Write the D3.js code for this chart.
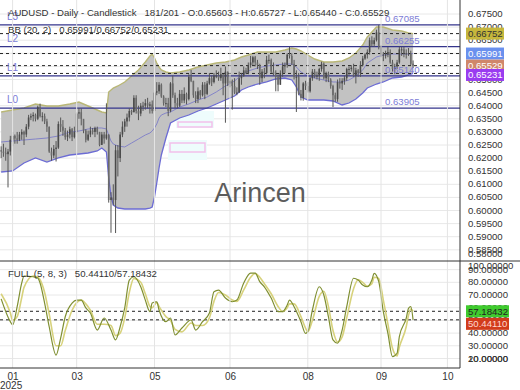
<!DOCTYPE html>
<html>
<head>
<meta charset="utf-8">
<script src="https://cdn.jsdelivr.net/npm/d3@7"></script>
<style>
  body { margin: 0; background: #fff; }
  svg { display: block; font-family: "Liberation Sans", Arial, sans-serif; }
</style>
</head>
<body>
<div id="chart"></div>
<script>
// ---- candles (bar index = position in array) ----
const opens = [
  0.6230,0.6225,0.6220,0.6215,0.6225,0.6270,0.6285,0.6275,0.6270,0.6290,
  0.6300,0.6290,0.6320,0.6355,0.6360,0.6365,0.6350,0.6395,0.6360,0.6360,
  0.6340,0.6320,0.6225,0.6210,0.6235,0.6240,0.6330,0.6320,0.6305,0.6280,
  0.6290,0.6310,0.6280,0.6300,0.6370,0.6375,0.6350,0.6305,0.6270,0.6290,
  0.6305,0.6300,0.6315,0.6300,0.6250,0.6290,0.6275,0.6290,0.6040,0.6050,
  0.6040,0.6230,0.6200,0.6290,0.6320,0.6340,0.6355,0.6380,0.6375,0.6430,
  0.6380,0.6370,0.6400,0.6400,0.6410,0.6400,0.6405,0.6380,0.6450,0.6455,
  0.6480,0.6435,0.6410,0.6410,0.6380,0.6485,0.6440,0.6410,0.6400,0.6445,
  0.6420,0.6445,0.6425,0.6510,0.6495,0.6440,0.6425,0.6455,0.6440,0.6480,
  0.6445,0.6485,0.6505,0.6490,0.6515,0.6515,0.6505,0.6520,0.6485,0.6530,
  0.6485,0.6495,0.6475,0.6450,0.6450,0.6505,0.6515,0.6535,0.6525,0.6555,
  0.6565,0.6585,0.6565,0.6555,0.6505,0.6530,0.6525,0.6575,0.6575,0.6530,
  0.6520,0.6510,0.6480,0.6525,0.6550,0.6555,0.6595,0.6590,0.6560,0.6510,
  0.6510,0.6445,0.6430,0.6485,0.6475,0.6455,0.6505,0.6530,0.6515,0.6515,
  0.6540,0.6560,0.6505,0.6525,0.6500,0.6475,0.6440,0.6425,0.6490,0.6485,
  0.6495,0.6505,0.6540,0.6540,0.6545,0.6515,0.6535,0.6525,0.6555,0.6580,
  0.6595,0.6605,0.6650,0.6635,0.6650,0.6680,0.6625,0.6595,0.6595,0.6595,
  0.6605,0.6565,0.6540,0.6550,0.6565,0.6615,0.6615,0.6600,0.6600,0.6600,
  0.65603
];
const highs = [
  0.6245,0.6255,0.6240,0.6235,0.6285,0.6300,0.6290,0.6300,0.6300,0.6310,
  0.6305,0.6330,0.6365,0.6370,0.6375,0.6370,0.6400,0.6408,0.6375,0.6370,
  0.6350,0.6320,0.6240,0.6250,0.6265,0.6340,0.6355,0.6345,0.6315,0.6305,
  0.6320,0.6315,0.6320,0.6375,0.6391,0.6390,0.6345,0.6310,0.6305,0.6320,
  0.6315,0.6320,0.6320,0.6300,0.6300,0.6300,0.6409,0.6290,0.6070,0.6100,
  0.6250,0.6250,0.6300,0.6340,0.6350,0.6370,0.6390,0.6385,0.6440,0.6440,
  0.6400,0.6410,0.6415,0.6425,0.6430,0.6415,0.6420,0.6460,0.6490,0.6490,
  0.6485,0.6440,0.6430,0.6430,0.6490,0.6515,0.6450,0.6430,0.6460,0.6460,
  0.6470,0.6450,0.6520,0.6537,0.6495,0.6455,0.6470,0.6460,0.6490,0.6490,
  0.6495,0.6525,0.6515,0.6525,0.6535,0.6530,0.6545,0.6520,0.6550,0.6530,
  0.6515,0.6500,0.6505,0.6470,0.6530,0.6525,0.6550,0.6545,0.6565,0.6590,
  0.6590,0.6590,0.6575,0.6560,0.6540,0.6545,0.6590,0.6595,0.6580,0.6565,
  0.6535,0.6520,0.6535,0.6565,0.6565,0.6600,0.6625,0.6600,0.6575,0.6535,
  0.6525,0.6460,0.6490,0.6495,0.6490,0.6510,0.6540,0.6540,0.6530,0.6545,
  0.6568,0.6565,0.6530,0.6530,0.6505,0.6480,0.6450,0.6500,0.6505,0.6505,
  0.6515,0.6545,0.6550,0.6555,0.6560,0.6545,0.6540,0.6570,0.6590,0.6600,
  0.6615,0.6660,0.6665,0.6660,0.6690,0.67085,0.6630,0.6605,0.6610,0.6625,
  0.6615,0.6575,0.6560,0.6575,0.6625,0.6625,0.6625,0.6615,0.6620,0.6610,
  0.65727
];
const lows = [
  0.6200,0.6205,0.6190,0.6088,0.6210,0.6245,0.6255,0.6255,0.6265,0.6270,
  0.6250,0.6280,0.6310,0.6345,0.6340,0.6340,0.6345,0.6355,0.6340,0.6330,
  0.6300,0.6220,0.6190,0.6200,0.6187,0.6235,0.6300,0.6285,0.6270,0.6265,
  0.6275,0.6265,0.6275,0.6295,0.6350,0.6325,0.6295,0.6260,0.6265,0.6280,
  0.6290,0.6280,0.6290,0.6245,0.6255,0.6255,0.6270,0.6030,0.5915,0.6020,
  0.5914,0.6130,0.6185,0.6280,0.6300,0.6320,0.6340,0.6365,0.6375,0.6370,
  0.6345,0.6360,0.6380,0.6385,0.6390,0.6370,0.6370,0.6375,0.6440,0.6445,
  0.6430,0.6400,0.6395,0.6360,0.6375,0.6430,0.6390,0.6390,0.6395,0.6410,
  0.6410,0.6405,0.6420,0.6490,0.6430,0.6410,0.6410,0.6425,0.6435,0.6425,
  0.6440,0.6480,0.6475,0.6485,0.6505,0.6495,0.6495,0.6440,0.6335,0.6475,
  0.6470,0.6385,0.6445,0.6440,0.6450,0.6480,0.6510,0.6520,0.6520,0.6545,
  0.6555,0.6550,0.6540,0.6480,0.6490,0.6505,0.6520,0.6560,0.6525,0.6515,
  0.6455,0.6455,0.6480,0.6510,0.6525,0.6545,0.6580,0.6555,0.6500,0.6376,
  0.6440,0.6420,0.6419,0.6460,0.6450,0.6450,0.6495,0.6505,0.6500,0.6495,
  0.6530,0.6500,0.6490,0.6490,0.6465,0.6395,0.6415,0.6415,0.6465,0.6460,
  0.6480,0.6495,0.6515,0.6530,0.6510,0.6485,0.6510,0.6510,0.6550,0.6575,
  0.6580,0.6595,0.6625,0.6625,0.6645,0.6615,0.6585,0.6570,0.6580,0.6585,
  0.6560,0.6530,0.6520,0.6540,0.6560,0.6590,0.6585,0.6580,0.6590,0.6555,
  0.65440
];
const closes = [
  0.6225,0.6220,0.6215,0.6225,0.6270,0.6285,0.6275,0.6270,0.6290,0.6300,
  0.6290,0.6320,0.6355,0.6360,0.6365,0.6350,0.6395,0.6360,0.6360,0.6340,
  0.6320,0.6225,0.6210,0.6235,0.6240,0.6330,0.6320,0.6305,0.6280,0.6290,
  0.6310,0.6280,0.6300,0.6370,0.6375,0.6350,0.6305,0.6270,0.6290,0.6305,
  0.6300,0.6315,0.6300,0.6250,0.6290,0.6275,0.6290,0.6040,0.6050,0.6040,
  0.6230,0.6200,0.6290,0.6320,0.6340,0.6355,0.6380,0.6375,0.6430,0.6380,
  0.6370,0.6400,0.6400,0.6410,0.6400,0.6405,0.6380,0.6450,0.6455,0.6480,
  0.6435,0.6410,0.6410,0.6380,0.6485,0.6440,0.6410,0.6400,0.6445,0.6420,
  0.6445,0.6425,0.6510,0.6495,0.6440,0.6425,0.6455,0.6440,0.6480,0.6445,
  0.6485,0.6505,0.6490,0.6515,0.6515,0.6505,0.6520,0.6485,0.6530,0.6485,
  0.6495,0.6475,0.6450,0.6450,0.6505,0.6515,0.6535,0.6525,0.6555,0.6565,
  0.6585,0.6565,0.6555,0.6505,0.6530,0.6525,0.6575,0.6575,0.6530,0.6520,
  0.6510,0.6480,0.6525,0.6550,0.6555,0.6595,0.6590,0.6560,0.6510,0.6510,
  0.6445,0.6430,0.6485,0.6475,0.6455,0.6505,0.6530,0.6515,0.6515,0.6540,
  0.6560,0.6505,0.6525,0.6500,0.6475,0.6440,0.6425,0.6490,0.6485,0.6495,
  0.6505,0.6540,0.6540,0.6545,0.6515,0.6535,0.6525,0.6555,0.6580,0.6595,
  0.6605,0.6650,0.6635,0.6650,0.6680,0.6625,0.6595,0.6595,0.6595,0.6605,
  0.6565,0.6540,0.6550,0.6565,0.6615,0.6615,0.6600,0.6600,0.6600,0.6560,
  0.65529
];

// ---- Bollinger bands (20, 2) at sample bars ----
const bbBars  = [0,5,10,15,20,25,30,34,38,42,44,46,47,48,49,51,54,57,60,63,65,66,67,68,69,70,72,74,78,82,86,90,94,98,102,105,108,112,116,120,124,127,129,131,134,137,141,145,149,152,155,158,160,162,164,167,171,175,178,180];
const bbUpper = [0.63760,0.63836,0.63912,0.64065,0.63989,0.63989,0.64065,0.64141,0.63989,0.63836,0.63760,0.63721,0.64523,0.64599,0.64676,0.64752,0.64905,0.65134,0.65363,0.65668,0.65897,0.65973,0.65821,0.65630,0.65477,0.65363,0.65286,0.65248,0.65286,0.65363,0.65477,0.65553,0.65630,0.65668,0.65744,0.65859,0.65935,0.66050,0.66050,0.66050,0.66126,0.66202,0.66164,0.66088,0.65935,0.65782,0.65668,0.65668,0.65706,0.65821,0.66011,0.66317,0.66622,0.66813,0.67004,0.67004,0.66889,0.66851,0.66775,0.66752];
const bbMid   = [0.62615,0.62653,0.62691,0.62729,0.62767,0.62844,0.62996,0.63034,0.63111,0.63149,0.63149,0.63111,0.62882,0.62653,0.62538,0.62462,0.62424,0.62576,0.62729,0.62882,0.62958,0.63034,0.63149,0.63302,0.63531,0.63645,0.63721,0.63760,0.63950,0.64065,0.64218,0.64332,0.64523,0.64752,0.64943,0.65172,0.65324,0.65439,0.65515,0.65553,0.65592,0.65592,0.65477,0.65286,0.65134,0.65057,0.64981,0.64905,0.64905,0.64981,0.65134,0.65363,0.65630,0.65744,0.65859,0.65935,0.65973,0.65973,0.65973,0.65991];
const bbLower = [0.61469,0.61508,0.61813,0.62004,0.61851,0.62004,0.62118,0.62156,0.62195,0.62271,0.62385,0.62233,0.61240,0.60553,0.60210,0.60095,0.60057,0.60057,0.60057,0.60057,0.60095,0.60134,0.60515,0.61050,0.61622,0.62118,0.62767,0.63340,0.63531,0.63645,0.63798,0.63912,0.64065,0.64218,0.64370,0.64599,0.64714,0.64828,0.64905,0.65019,0.65057,0.64981,0.64714,0.64332,0.64218,0.64218,0.64218,0.64179,0.64027,0.64103,0.64256,0.64485,0.64676,0.64752,0.64828,0.64905,0.65057,0.65095,0.65172,0.65231];

// ---- Full stochastic (5, 8, 3) ----
const stochBars = [0,4,5,7,9,10,14,16,17,19,21,24,26,28,31,33,35,37,39,42,45,48,50,52,54,56,58,61,63,65,66,68,69,72,74,76,79,83,85,88,91,93,95,98,101,103,106,109,111,113,115,118,121,123,125,126,128,131,133,134,136,139,141,143,145,147,149,151,154,156,158,160,162,163,165,167,169,171,173,174,177,178,179,180];
const stochK = [67,49,46.4,60.8,79.5,85,84.4,83.4,79.5,63.7,45,22.7,36.1,52.9,63.7,66,66,59.8,55.8,42.4,51.9,42.4,34.6,45,59.8,81.8,84.4,76.5,66,56.9,63.7,64.7,58.2,49,51.9,38.5,44,50.3,42.4,49,55.8,72.6,73.9,67.6,64.7,66,79.5,87.3,87.3,80.5,76.5,67.6,56.9,56.9,62.1,66,60.8,49,39.8,41.1,58.2,76.5,70,52.9,34.6,32,42.4,60.8,83.2,81.8,77.9,76.5,81.8,87.1,80.5,56.9,39.8,21.4,24.1,37.2,51.7,59.5,60.8,50.4411];
const stochD = [71,56,50,53,68,76,85,84,82,72,55,30,30,42,58,64,66,63,58,47,47,46,38,40,52,72,83,80,71,61,60,64,61,53,50,43,41,48,46,46,52,65,72,70,66,65,74,84,87,84,79,71,61,57,60,63,63,53,44,41,50,69,73,61,42,33,37,52,75,82,80,77,79,84,83,66,47,28,22,29,45,54,59,57.18432];

// ---- levels, ticks, labels ----
const levelNames  = ["L0", "L1", "L2", "L3"];
const levelValues = [0.63905, 0.65140, 0.66255, 0.67085];
const priceTicks = d3.range(0, 20).map(i => +(0.58 + i * 0.005).toFixed(3));
const stochTicks = [10, 20, 30, 40, 50, 60, 70, 80, 90, 100];
const xTickBars   = [5, 33, 67, 100, 134, 166, 195];
const xTickLabels = ["01", "03", "05", "06", "08", "09", "10"];

const lastBB = { upper: 0.66752, mid: 0.65991, lower: 0.65231 };
const lastClose = 0.65529;
const lastK = 50.44110, lastD = 57.18432;


const W = 520, H = 390;
const plotRight = 460;
const mainBottom = 261, subBottom = 368;
const fs = 9.6;

let svg = d3.select("#chart").append("svg")
    .attr("width", W)
    .attr("height", H);

let x = d3.scaleLinear().domain([0, 201]).range([0, plotRight]);
let y = d3.scaleLinear().domain([0.58, 0.675]).range([262.9, 14]);
let ys = d3.scaleLinear().domain([12.5, 96.8]).range([subBottom, mainBottom]);
let xc = i => x(i + 0.5);

let defs = svg.append("defs");
defs.append("clipPath").attr("id", "clipMain")
    .append("rect").attr("x", 0).attr("y", 0).attr("width", plotRight).attr("height", mainBottom);
defs.append("clipPath").attr("id", "clipSub")
    .append("rect").attr("x", 0).attr("y", mainBottom).attr("width", plotRight).attr("height", subBottom - mainBottom);

let main = svg.append("g").attr("clip-path", "url(#clipMain)");
let sub = svg.append("g").attr("clip-path", "url(#clipSub)");

// grid
main.selectAll(".hgrid").data(priceTicks).enter().append("line")
    .attr("x1", 0).attr("x2", plotRight)
    .attr("y1", d => y(d)).attr("y2", d => y(d))
    .attr("stroke", "#e8e8e8");
sub.selectAll(".hgrid").data(stochTicks).enter().append("line")
    .attr("x1", 0).attr("x2", plotRight)
    .attr("y1", d => ys(d)).attr("y2", d => ys(d))
    .attr("stroke", "#e8e8e8");
svg.selectAll(".vgrid").data(xTickBars).enter().append("line")
    .attr("x1", d => xc(d)).attr("x2", d => xc(d))
    .attr("y1", 0).attr("y2", subBottom)
    .attr("stroke", "#e4e4e4");

// faint leftover tooltip boxes seen in the screenshot
let ghosts = [
    { x: 176, y: 111, w: 38, h: 17, bar: [122, 5] },
    { x: 168, y: 140, w: 39, h: 20, bar: [143, 9] }
];
ghosts.forEach(g => {
    main.append("rect").attr("x", g.x).attr("y", g.y).attr("width", g.w).attr("height", g.h)
        .attr("fill", "#eefcfc");
    main.append("rect").attr("x", g.x + 2).attr("y", g.bar[0]).attr("width", g.w - 4).attr("height", g.bar[1])
        .attr("fill", "none").attr("stroke", "#f2c0ea").attr("stroke-width", 1.5);
});

// bollinger band
let bb = bbBars.map((b, i) => ({ b: b, u: bbUpper[i], m: bbMid[i], l: bbLower[i] }));
main.append("path").datum(bb)
    .attr("d", d3.area().x(d => xc(d.b)).y0(d => y(d.l)).y1(d => y(d.u)))
    .attr("fill", "#c2c2c2");
main.append("path").datum(bb)
    .attr("d", d3.line().x(d => xc(d.b)).y(d => y(d.m)))
    .attr("fill", "none").attr("stroke", "#8484c8").attr("stroke-width", 1);
main.append("path").datum(bb)
    .attr("d", d3.line().x(d => xc(d.b)).y(d => y(d.u)))
    .attr("fill", "none").attr("stroke", "#b9b776").attr("stroke-width", 1.4);
main.append("path").datum(bb)
    .attr("d", d3.line().x(d => xc(d.b)).y(d => y(d.l)))
    .attr("fill", "none").attr("stroke", "#6c6cd4").attr("stroke-width", 1.3);

// watermark
svg.append("text")
    .attr("x", 260).attr("y", 202)
    .attr("text-anchor", "middle")
    .attr("font-size", 27)
    .attr("fill", "#5c5c5c")
    .text("Arincen");

// levels
main.selectAll(".level").data(levelValues).enter().append("line")
    .attr("x1", 0).attr("x2", plotRight)
    .attr("y1", d => y(d)).attr("y2", d => y(d))
    .attr("stroke", "#35358c").attr("stroke-width", 1.3);

// dashed markers
let dashVals = [lastBB.upper, lastBB.mid, lastClose, lastBB.lower];
main.selectAll(".dash").data(dashVals).enter().append("line")
    .attr("x1", 0).attr("x2", plotRight)
    .attr("y1", d => y(d)).attr("y2", d => y(d))
    .attr("stroke", "#222").attr("stroke-dasharray", "3,3");

// candles
let candles = closes.map((c, i) => ({ i: i, o: opens[i], h: highs[i], l: lows[i], c: c }));
let cg = main.selectAll(".candle").data(candles).enter().append("g");
cg.append("line")
    .attr("x1", d => xc(d.i)).attr("x2", d => xc(d.i))
    .attr("y1", d => y(d.h)).attr("y2", d => y(d.l))
    .attr("stroke", "#555").attr("stroke-width", 1);
cg.append("rect")
    .attr("x", d => xc(d.i) - 0.8)
    .attr("width", 1.6)
    .attr("y", d => y(Math.max(d.o, d.c)))
    .attr("height", d => Math.max(1, Math.abs(y(d.o) - y(d.c))))
    .attr("fill", d => d.c >= d.o ? "#4a4a4a" : "#6a6a6a");

// level labels
main.selectAll(".lname").data(levelValues).enter().append("text")
    .attr("x", 7).attr("y", d => y(d) - 5)
    .attr("font-size", 10).attr("fill", "#7c7cd6")
    .text((d, i) => levelNames[i]);
main.selectAll(".lval").data(levelValues).enter().append("text")
    .attr("x", 385).attr("y", d => y(d) - 3)
    .attr("font-size", fs).attr("fill", "#7c7cd6")
    .text(d => d.toFixed(5));

// stochastic
let st = stochBars.map((b, i) => ({ b: b, k: stochK[i], d: stochD[i] }));
sub.selectAll(".sdash").data([lastD, lastK]).enter().append("line")
    .attr("x1", 0).attr("x2", plotRight)
    .attr("y1", d => ys(d)).attr("y2", d => ys(d))
    .attr("stroke", "#222").attr("stroke-dasharray", "3,3");
sub.append("path").datum(st)
    .attr("d", d3.line().x(d => xc(d.b)).y(d => ys(d.d)).curve(d3.curveMonotoneX))
    .attr("fill", "none").attr("stroke", "#d7d27c").attr("stroke-width", 1.6);
sub.append("path").datum(st)
    .attr("d", d3.line().x(d => xc(d.b)).y(d => ys(d.k)).curve(d3.curveMonotoneX))
    .attr("fill", "none").attr("stroke", "#7f8f32").attr("stroke-width", 1.2);

// titles
svg.append("text").attr("x", 8).attr("y", 15.5).attr("font-size", fs).attr("fill", "#333")
    .attr("xml:space", "preserve")
    .text("AUDUSD - Daily - Candlestick   181/201 - O:0.65603 - H:0.65727 - L:0.65440 - C:0.65529");
svg.append("text").attr("x", 8).attr("y", 33).attr("font-size", fs).attr("fill", "#333")
    .attr("xml:space", "preserve")
    .text("BB (20, 2)   0.65991/0.66752/0.65231");
svg.append("text").attr("x", 8).attr("y", 277).attr("font-size", fs).attr("fill", "#333")
    .attr("xml:space", "preserve")
    .text("FULL (5, 8, 3)   50.44110/57.18432");

// frame
svg.append("line").attr("x1", plotRight).attr("x2", plotRight).attr("y1", 0).attr("y2", subBottom).attr("stroke", "#333");
svg.append("line").attr("x1", 0).attr("x2", W).attr("y1", mainBottom).attr("y2", mainBottom).attr("stroke", "#333");
svg.append("line").attr("x1", 0).attr("x2", plotRight).attr("y1", subBottom).attr("y2", subBottom).attr("stroke", "#333");

// right axes
let yAxis = d3.axisRight(y).tickValues(priceTicks).tickFormat(d3.format(".5f")).tickSize(0).tickPadding(8);
let ga = svg.append("g").attr("transform", `translate(${plotRight},0)`).call(yAxis);
ga.select(".domain").remove();
ga.selectAll(".tick").attr("transform", d => `translate(0,${Math.min(y(d), 254)})`);

let ysAxis = d3.axisRight(ys).tickValues(stochTicks).tickFormat(d3.format(".5f")).tickSize(0).tickPadding(8);
let gs = svg.append("g").attr("transform", `translate(${plotRight},0)`).call(ysAxis);
gs.select(".domain").remove();
gs.selectAll(".tick").attr("transform", d => `translate(0,${Math.max(266, Math.min(ys(d), 359))})`);

svg.selectAll(".tick text").attr("font-size", fs).attr("fill", "#333").attr("font-family", "Liberation Sans, Arial, sans-serif");

// value boxes on the axis
let boxes = [
    { y: y(lastBB.upper), t: "0.66752", bg: "#c6b73c", fg: "#333", w: 38 },
    { y: y(lastBB.mid), t: "0.65991", bg: "#6a90ee", fg: "#fff", w: 38 },
    { y: y(lastClose), t: "0.65529", bg: "#d0876a", fg: "#fff", w: 38 },
    { y: y(lastBB.lower) + 1.5, t: "0.65231", bg: "#9a3cf0", fg: "#fff", w: 38 },
    { y: ys(lastD), t: "57.18432", bg: "#3fcb2e", fg: "#222", w: 43 },
    { y: ys(lastK) + 4, t: "50.44110", bg: "#d23c1c", fg: "#ffd8d0", w: 43 }
];
let bx = svg.selectAll(".box").data(boxes).enter().append("g")
    .attr("transform", d => `translate(466,${d.y})`);
bx.append("rect").attr("x", 0).attr("y", -6).attr("width", d => d.w).attr("height", 12)
    .attr("fill", d => d.bg);
bx.append("text").attr("x", 2).attr("y", 3.5).attr("font-size", fs).attr("fill", d => d.fg)
    .text(d => d.t);

// bottom axis
let xAxis = d3.axisBottom(x).tickValues(xTickBars.map(b => b + 0.5))
    .tickFormat((d, i) => xTickLabels[i]).tickSize(0).tickPadding(5);
let gx = svg.append("g").attr("transform", `translate(0,${subBottom})`).call(xAxis);
gx.select(".domain").remove();
gx.selectAll("text").attr("font-size", 10).attr("fill", "#333").attr("font-family", "Liberation Sans, Arial, sans-serif");
svg.append("text").attr("x", 0).attr("y", 388.5).attr("font-size", 10).attr("fill", "#333").text("2025");
</script>
</body>
</html>
